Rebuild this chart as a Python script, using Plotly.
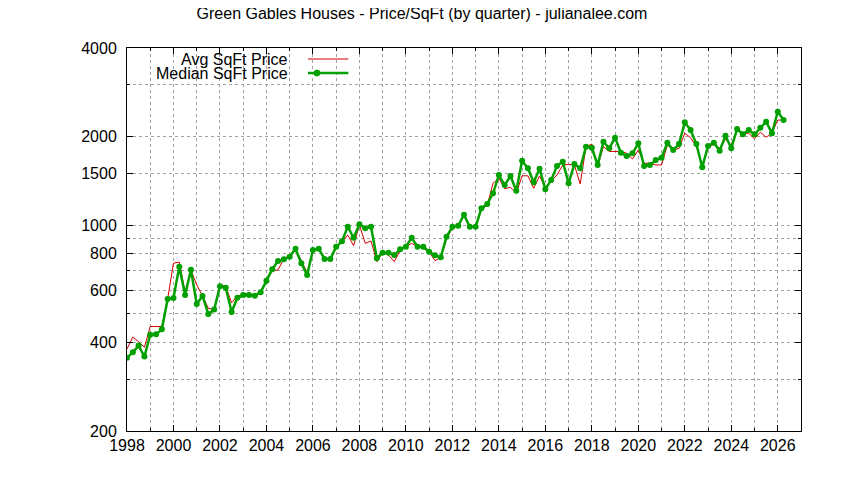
import plotly.graph_objects as go

# quarterly data, first quarter of 1998 through second quarter of 2026
start_year = 1998
median_price = [355, 370, 390, 358, 425, 426, 443, 562, 566, 723, 579, 706, 540, 575, 499, 517,
                620, 613, 507, 567, 579, 579, 576, 592, 648, 709, 756, 766, 782, 832, 743, 678,
                824, 832, 768, 768, 845, 882, 988, 907, 1007, 976, 988, 772, 807, 807, 792, 828,
                845, 907, 845, 845, 813, 790, 778, 914, 988, 996, 1086, 988, 988, 1141, 1181, 1284,
                1481, 1369, 1470, 1310, 1657, 1561, 1399, 1556, 1324, 1424, 1589, 1644, 1388, 1614,
                1561, 1848, 1833, 1602, 1922, 1825, 1983, 1764, 1719, 1755, 1898, 1589, 1602, 1666,
                1696, 1907, 1801, 1887, 2237, 2106, 1887, 1573, 1858, 1907, 1792, 2014, 1825, 2123,
                2037, 2106, 2037, 2144, 2247, 2053, 2430, 2277]
avg_price = [380, 417, 402, 385, 453, 453, 453, 562, 743, 750, 591, 705, 627, 576, 522, 517,
             627, 620, 545, 575, 580, 588, 575, 590, 650, 700, 705, 770, 790, 825, 760, 690,
             820, 830, 780, 752, 856, 874, 926, 852, 1002, 868, 884, 752, 807, 792, 752, 819,
             845, 868, 845, 835, 813, 758, 778, 900, 980, 996, 1075, 984, 990, 1130, 1170, 1389,
             1444, 1330, 1346, 1284, 1472, 1472, 1335, 1470, 1345, 1414, 1481, 1602, 1610, 1602,
             1380, 1848, 1887, 1581, 1848, 1781, 1781, 1781, 1755, 1680, 1800, 1623, 1623, 1602,
             1602, 1873, 1801, 1825, 2053, 1983, 1848, 1602, 1825, 1890, 1825, 1958, 1873, 2106,
             2053, 2053, 1967, 2070, 1990, 2053, 2277, 2277]
quarters = [start_year + i / 4 for i in range(len(median_price))]

y_major = [200, 400, 600, 800, 1000, 1500, 2000, 4000]
y_minor = [300, 500, 700, 900, 3000]

red = '#d40000'
green = '#00a000'
font = 'Liberation Sans, Arial, sans-serif'

fig = go.Figure()
fig.add_trace(go.Scatter(x=quarters, y=avg_price, mode='lines', name='Avg SqFt Price',
                         line=dict(color=red, width=1)))
fig.add_trace(go.Scatter(x=quarters, y=median_price, mode='lines+markers', name='Median SqFt Price',
                         line=dict(color=green, width=2.5),
                         marker=dict(color=green, size=6, symbol='circle')))

# the page body adds an 8px offset, so margins are shifted to compensate
fig.update_layout(
    width=844,
    height=480,
    autosize=False,
    showlegend=False,
    plot_bgcolor='white',
    paper_bgcolor='white',
    font=dict(family=font, size=16, color='black'),
    title=dict(text='Green Gables Houses - Price/SqFt (by quarter) - julianalee.com',
               x=0.5 - 8 / 844, xanchor='center', y=1, yanchor='top', yref='container',
               pad=dict(t=0, b=0), font=dict(size=16)),
    margin=dict(l=119, r=51, t=40, b=57),
    xaxis=dict(
        range=[1998, 2027],
        tick0=1998,
        dtick=2,
        ticks='inside',
        ticklen=6,
        tickcolor='black',
        showline=True,
        linecolor='black',
        linewidth=1,
        mirror='allticks',
        showgrid=True,
        gridcolor='#a0a0a0',
        griddash='dot',
        zeroline=False,
        minor=dict(dtick=1, tick0=1998, ticks='inside', ticklen=3, tickcolor='black',
                   showgrid=True, gridcolor='#a0a0a0', griddash='dot'),
    ),
    yaxis=dict(
        type='log',
        range=[2.30103, 3.60206],
        tickvals=y_major,
        ticktext=[str(v) for v in y_major],
        ticks='inside',
        ticklen=6,
        tickcolor='black',
        showline=True,
        linecolor='black',
        linewidth=1,
        mirror='allticks',
        showgrid=True,
        gridcolor='#a0a0a0',
        griddash='dot',
        zeroline=False,
        ticklabelstandoff=6,
        minor=dict(tickvals=y_minor, ticks='inside', ticklen=3, tickcolor='black',
                   showgrid=True, gridcolor='#a0a0a0', griddash='dot'),
    ),
)

# gnuplot style key: text right aligned, line sample on its right
key_rows = [('Avg SqFt Price', red, 1, False, 0.9712), ('Median SqFt Price', green, 2.5, True, 0.9346)]
for label, color, width, with_marker, ky in key_rows:
    fig.add_annotation(x=0.2414, y=ky, xref='paper', yref='paper', text=label, showarrow=False,
                       xanchor='right', yanchor='middle', font=dict(size=16))
    fig.add_shape(type='line', xref='paper', yref='paper', x0=0.2685, x1=0.3284, y0=ky, y1=ky,
                  line=dict(color=color, width=width))
    if with_marker:
        fig.add_shape(type='circle', xref='paper', yref='paper', fillcolor=color,
                      line=dict(color=color, width=1),
                      x0=0.2819 - 3 / 674, x1=0.2819 + 3 / 674, y0=ky - 3 / 382, y1=ky + 3 / 382)

fig.write_html("out.html")
